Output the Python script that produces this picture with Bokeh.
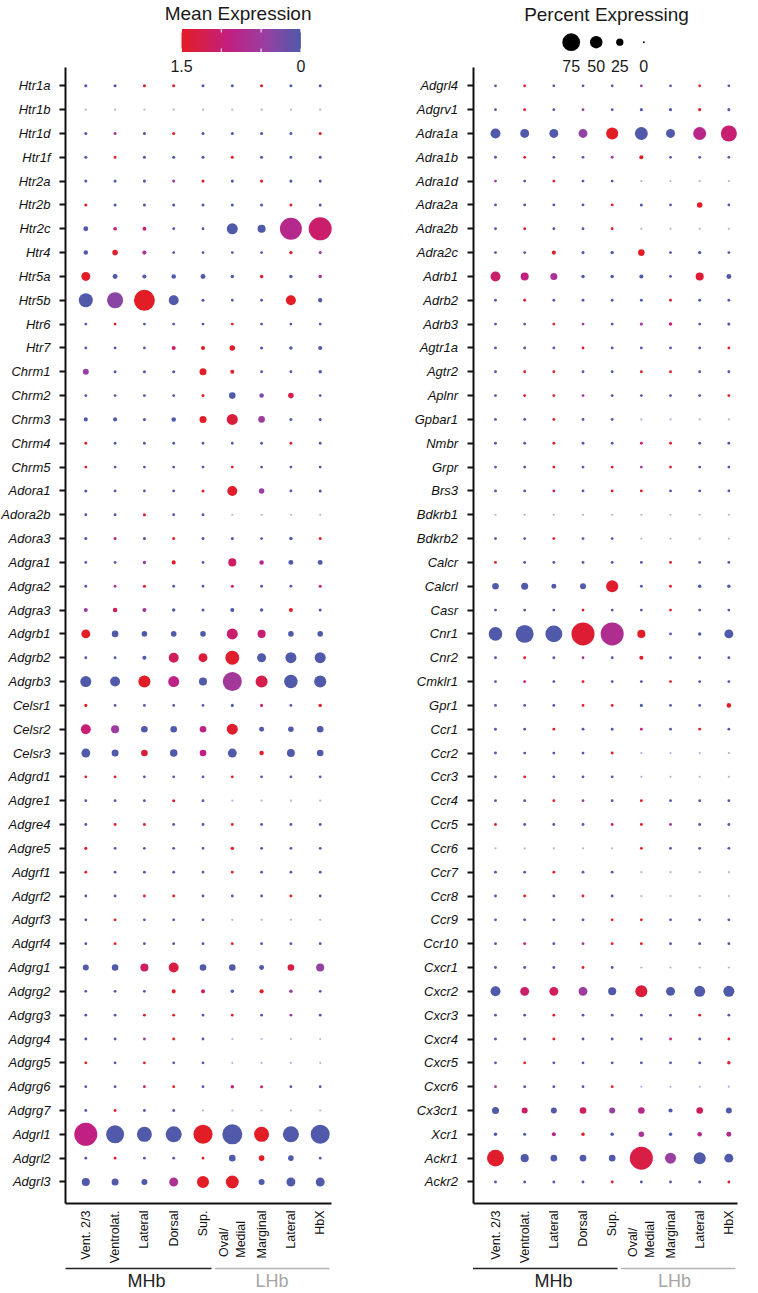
import math
import numpy as np
from bokeh.plotting import figure
from bokeh.models import (Range1d, LinearAxis, FixedTicker, ColumnDataSource,
                          LinearColorMapper, LinearInterpolator)
from bokeh.transform import transform
from bokeh.core.properties import value
from bokeh.embed import file_html
from bokeh.resources import INLINE

# ---------------- data ----------------
NB = "\u00a0"
groups = ["Vent. 2/3", "Ventrolat.", "Lateral", "Dorsal", "Sup.",
          "Oval/" + NB * 5 + "\nMedial" + NB * 3, "Marginal", "Lateral", "HbX"]
bracket_names = ["MHb", "LHb"]

genes_left = ["Htr1a", "Htr1b", "Htr1d", "Htr1f", "Htr2a", "Htr2b", "Htr2c", "Htr4",
              "Htr5a", "Htr5b", "Htr6", "Htr7", "Chrm1", "Chrm2", "Chrm3", "Chrm4",
              "Chrm5", "Adora1", "Adora2b", "Adora3", "Adgra1", "Adgra2", "Adgra3",
              "Adgrb1", "Adgrb2", "Adgrb3", "Celsr1", "Celsr2", "Celsr3", "Adgrd1",
              "Adgre1", "Adgre4", "Adgre5", "Adgrf1", "Adgrf2", "Adgrf3", "Adgrf4",
              "Adgrg1", "Adgrg2", "Adgrg3", "Adgrg4", "Adgrg5", "Adgrg6", "Adgrg7",
              "Adgrl1", "Adgrl2", "Adgrl3"]

expr_left = [
    [0, 0, 1.5, 1.5, 0, 0, 1.5, 0, 0],          # Htr1a
    [0, 0, 0, 0, 0, 0, 0, 0, 0],                # Htr1b
    [0, 0.5, 0, 1.5, 0, 0, 0, 0, 1.5],          # Htr1d
    [0, 1.5, 0, 0, 0, 1.5, 0, 0, 0],            # Htr1f
    [0, 0, 0, 0.5, 1.5, 0, 1.5, 0, 0],          # Htr2a
    [1.5, 0, 0, 0, 0, 0, 0, 1.5, 0],            # Htr2b
    [0, 1.0, 1.0, 0, 0, 0, 0, 0.75, 1.05],      # Htr2c
    [0, 1.5, 0.7, 0, 0, 0, 0, 1.5, 0.5],        # Htr4
    [1.5, 0, 0, 0, 0, 0, 1.5, 0, 0.6],          # Htr5a
    [0, 0.35, 1.5, 0, 0, 0, 0, 1.5, 0],         # Htr5b
    [0, 1.5, 0, 0, 0, 1.5, 0, 0, 0],            # Htr6
    [0, 0, 0, 1.1, 1.5, 1.5, 0, 0, 0],          # Htr7
    [0.45, 0, 0, 0, 1.5, 1.5, 0, 0, 0],         # Chrm1
    [0, 0, 0, 0, 1.5, 0, 0.25, 1.25, 0],        # Chrm2
    [0, 0, 0, 0, 1.5, 1.35, 0.5, 0, 0],         # Chrm3
    [1.5, 0, 0, 0, 0, 0, 0, 1.5, 0],            # Chrm4
    [1.5, 0, 0, 0, 0, 1.5, 0, 0, 0],            # Chrm5
    [0, 0, 0, 0, 1.5, 1.45, 0.45, 0, 0],        # Adora1
    [0, 0, 1.5, 0, 0, 0, 0, 0, 0],              # Adora2b
    [0, 1.0, 0, 1.5, 0, 0, 0, 0, 1.5],          # Adora3
    [0, 0, 0.45, 1.5, 0, 1.1, 0.75, 0, 0],      # Adgra1
    [0, 0.5, 1.5, 0, 0, 1.0, 0, 0, 1.0],        # Adgra2
    [0.45, 1.2, 0.55, 0, 0, 0, 0, 1.5, 0],      # Adgra3
    [1.5, 0, 0, 0, 0, 1.05, 1.0, 0, 0],         # Adgrb1
    [0, 0, 0, 1.15, 1.35, 1.45, 0, 0, 0],       # Adgrb2
    [0, 0, 1.5, 0.85, 0, 0.55, 1.25, 0, 0],     # Adgrb3
    [1.5, 0, 0, 0, 0, 0, 1.0, 0, 1.5],          # Celsr1
    [1.0, 0.5, 0, 0, 0.85, 1.45, 0, 0, 0],      # Celsr2
    [0, 0, 1.35, 0, 0.9, 0, 1.5, 0, 0],         # Celsr3
    [1.5, 1.5, 0, 0, 0, 1.5, 0, 0, 0],          # Adgrd1
    [0, 0, 0, 1.5, 0, 0, 0, 0, 0],              # Adgre1
    [0, 1.5, 1.5, 0, 0, 1.5, 0, 0, 0],          # Adgre4
    [1.5, 0, 0, 0, 0, 1.5, 0, 0, 0],            # Adgre5
    [1.5, 0, 0, 0, 0, 1.5, 0, 0, 0],            # Adgrf1
    [0, 0, 1.5, 1.5, 0, 0, 0, 1.5, 0],          # Adgrf2
    [0, 1.5, 0, 0, 0, 0, 0, 0, 0],              # Adgrf3
    [0, 1.5, 0, 0, 0, 1.5, 0, 0, 0],            # Adgrf4
    [0, 0, 1.1, 1.3, 0, 0, 0, 1.3, 0.4],        # Adgrg1
    [0, 0, 0, 1.5, 1.1, 0, 1.5, 0.45, 0],       # Adgrg2
    [0, 0, 1.5, 1.5, 0, 1.5, 0, 0.5, 0],        # Adgrg3
    [0, 0, 0.5, 1.5, 0, 0, 0, 0, 0],            # Adgrg4
    [1.5, 0, 1.5, 0, 0, 0, 0, 0, 0],            # Adgrg5
    [0, 0, 1.0, 1.5, 0, 1.0, 1.0, 0, 0],        # Adgrg6
    [0, 1.5, 0, 0, 0, 0, 0, 0, 0],              # Adgrg7
    [0.9, 0, 0, 0, 1.5, 0, 1.5, 0, 0],          # Adgrl1
    [0, 1.5, 0, 0, 1.5, 0, 1.5, 0, 0],          # Adgrl2
    [0, 0, 0, 0.65, 1.5, 1.5, 0, 0, 0],         # Adgrl3
]

pct_left = [
    [5, 5, 5, 5, 5, 5, 5, 5, 5],                # Htr1a
    [1, 1, 1, 1, 1, 1, 1, 1, 1],                # Htr1b
    [5, 5, 5, 5, 5, 5, 5, 5, 5],                # Htr1d
    [5, 5, 5, 5, 5, 5, 5, 5, 5],                # Htr1f
    [5, 5, 5, 5, 5, 5, 5, 5, 5],                # Htr2a
    [5, 5, 5, 5, 5, 5, 5, 5, 5],                # Htr2b
    [14, 8, 9, 4, 4, 43, 29, 95, 100],          # Htr2c
    [12, 17, 10, 4, 4, 4, 4, 7, 5],             # Htr4
    [33, 14, 10, 12, 14, 7, 7, 7, 7],           # Htr5a
    [57, 67, 90, 38, 5, 4, 4, 38, 11],          # Htr5b
    [4, 4, 4, 4, 4, 4, 4, 4, 4],                # Htr6
    [4, 4, 4, 10, 10, 17, 5, 7, 10],            # Htr7
    [19, 5, 5, 5, 24, 10, 4, 4, 7],             # Chrm1
    [4, 4, 4, 4, 5, 22, 12, 17, 4],             # Chrm2
    [10, 10, 5, 12, 24, 43, 22, 5, 5],          # Chrm3
    [4, 4, 4, 4, 4, 4, 4, 4, 4],                # Chrm4
    [4, 4, 4, 4, 4, 4, 4, 4, 4],                # Chrm5
    [5, 4, 4, 4, 5, 38, 17, 4, 5],              # Adora1
    [4, 4, 5, 4, 4, 1, 1, 1, 1],                # Adora2b
    [5, 5, 5, 5, 5, 5, 4, 7, 5],                # Adora3
    [4, 4, 7, 10, 4, 29, 12, 14, 14],           # Adgra1
    [4, 4, 5, 4, 4, 5, 4, 4, 5],                # Adgra2
    [10, 12, 10, 7, 5, 10, 7, 10, 5],           # Adgra3
    [33, 22, 17, 17, 17, 43, 29, 17, 17],       # Adgrb1
    [4, 4, 10, 38, 33, 57, 33, 43, 43],         # Adgrb2
    [43, 38, 48, 43, 29, 81, 48, 55, 48],       # Adgrb3
    [5, 4, 4, 4, 4, 5, 5, 4, 7],                # Celsr1
    [38, 29, 22, 22, 22, 43, 14, 17, 22],       # Celsr2
    [33, 24, 22, 26, 22, 33, 12, 28, 22],       # Celsr3
    [4, 4, 4, 4, 4, 4, 4, 4, 4],                # Adgrd1
    [4, 4, 4, 5, 4, 1, 1, 1, 1],                # Adgre1
    [4, 4, 4, 4, 4, 4, 4, 4, 4],                # Adgre4
    [5, 4, 4, 4, 4, 7, 4, 4, 4],                # Adgre5
    [4, 4, 4, 4, 4, 4, 4, 4, 4],                # Adgrf1
    [4, 4, 4, 4, 4, 4, 4, 4, 4],                # Adgrf2
    [4, 4, 4, 4, 4, 1, 1, 1, 1],                # Adgrf3
    [4, 4, 4, 4, 4, 4, 4, 4, 4],                # Adgrf4
    [19, 22, 29, 38, 22, 22, 14, 22, 29],       # Adgrg1
    [4, 4, 4, 10, 10, 7, 10, 7, 4],             # Adgrg2
    [4, 4, 4, 4, 4, 4, 4, 4, 4],                # Adgrg3
    [4, 4, 4, 4, 4, 1, 1, 1, 1],                # Adgrg4
    [4, 4, 4, 4, 4, 1, 1, 1, 1],                # Adgrg5
    [4, 4, 4, 4, 4, 7, 5, 4, 4],                # Adgrg6
    [4, 4, 4, 4, 1, 1, 1, 1, 1],                # Adgrg7
    [100, 76, 62, 67, 81, 86, 62, 67, 81],      # Adgrl1
    [4, 4, 4, 4, 4, 22, 17, 17, 4],             # Adgrl2
    [29, 24, 19, 33, 48, 52, 19, 33, 33],       # Adgrl3
]

genes_right = ["Adgrl4", "Adgrv1", "Adra1a", "Adra1b", "Adra1d", "Adra2a", "Adra2b",
               "Adra2c", "Adrb1", "Adrb2", "Adrb3", "Agtr1a", "Agtr2", "Aplnr", "Gpbar1",
               "Nmbr", "Grpr", "Brs3", "Bdkrb1", "Bdkrb2", "Calcr", "Calcrl", "Casr",
               "Cnr1", "Cnr2", "Cmklr1", "Gpr1", "Ccr1", "Ccr2", "Ccr3", "Ccr4", "Ccr5",
               "Ccr6", "Ccr7", "Ccr8", "Ccr9", "Ccr10", "Cxcr1", "Cxcr2", "Cxcr3", "Cxcr4",
               "Cxcr5", "Cxcr6", "Cx3cr1", "Xcr1", "Ackr1", "Ackr2"]

expr_right = [
    [0, 1.5, 0, 0, 0, 0.5, 0, 1.5, 0],          # Adgrl4
    [0, 1.5, 0, 0.5, 0, 0, 0, 1.5, 0],          # Adgrv1
    [0, 0, 0, 0.4, 1.5, 0, 0, 0.8, 1.0],        # Adra1a
    [0, 1.5, 0, 0, 0.5, 1.5, 0, 0, 0],          # Adra1b
    [0.5, 0, 1.5, 0, 0, 0, 0, 0, 0],            # Adra1d
    [0, 0, 0, 0, 1.5, 0, 0, 1.5, 0],            # Adra2a
    [0, 1.5, 0, 0, 1.5, 0, 0, 0, 0],            # Adra2b
    [0, 0, 1.5, 0, 0, 1.5, 0, 0, 0],            # Adra2c
    [1.05, 0.9, 0.65, 0, 0, 0, 0, 1.4, 0],      # Adrb1
    [0, 1.5, 0, 0, 0, 0, 1.5, 0, 0],            # Adrb2
    [0, 0, 1.5, 0.5, 0, 0.5, 1.0, 0, 0],        # Adrb3
    [0, 0, 0, 1.5, 0, 0, 0, 0, 1.5],            # Agtr1a
    [0, 1.5, 1.5, 0, 0, 1.5, 1.5, 0, 0],        # Agtr2
    [0, 1.5, 1.5, 0.5, 0, 0, 0, 0, 1.5],        # Aplnr
    [0, 0, 1.5, 0, 0, 0, 0, 0, 0],              # Gpbar1
    [0, 0, 1.5, 0, 0, 1.0, 1.5, 0, 0],          # Nmbr
    [0, 0, 1.5, 0, 1.5, 0.5, 1.5, 0, 0],        # Grpr
    [0, 0, 1.0, 0, 1.5, 1.5, 0, 0, 0],          # Brs3
    [0, 0, 0, 0, 0, 0, 0, 0, 0],                # Bdkrb1
    [0, 0, 1.5, 0, 0, 0, 0, 0, 0],              # Bdkrb2
    [1.5, 0, 0, 0, 0, 0, 1.5, 0, 0],            # Calcr
    [0, 0, 0, 0, 1.45, 0, 1.5, 0, 0],           # Calcrl
    [0, 0, 0, 1.5, 0, 0, 1.5, 0, 0],            # Casr
    [0, 0, 0, 1.4, 0.7, 1.5, 0, 0, 0],          # Cnr1
    [0, 1.5, 0, 0.5, 0, 1.5, 0, 0, 0],          # Cnr2
    [0, 1.0, 0, 1.5, 0, 0, 1.5, 0, 0],          # Cmklr1
    [0, 0, 0, 1.5, 1.5, 0, 0, 0, 1.5],          # Gpr1
    [0, 0, 1.5, 0, 0, 1.0, 0, 1.5, 0],          # Ccr1
    [0, 0, 0, 0, 1.5, 0, 0, 0, 0],              # Ccr2
    [0, 1.5, 0, 0, 0, 0, 0, 0, 0],              # Ccr3
    [0, 0, 1.5, 0.5, 0, 1.5, 0, 0, 0],          # Ccr4
    [1.5, 0, 0, 0, 1.0, 1.5, 0.5, 0, 0],        # Ccr5
    [0, 0, 0, 0, 0, 1.5, 0, 0, 0],              # Ccr6
    [0, 0, 1.5, 0, 0, 0, 0, 0, 0],              # Ccr7
    [0, 1.5, 0, 1.5, 0, 0, 0, 0, 0],            # Ccr8
    [0, 0, 0, 0, 1.5, 1.5, 0, 0, 0],            # Ccr9
    [0, 1.0, 0, 0.5, 1.5, 1.5, 0, 0, 0],        # Ccr10
    [0, 0, 0, 1.5, 0, 0, 0, 0, 0],              # Cxcr1
    [0, 1.05, 1.15, 0.5, 0, 1.35, 0, 0, 0],     # Cxcr2
    [0, 0, 1.5, 0, 0, 0, 0, 1.5, 0],            # Cxcr3
    [0, 0, 1.5, 0, 0, 0, 1.0, 0, 1.5],          # Cxcr4
    [0, 1.5, 0, 0, 0, 0, 0, 0, 1.5],            # Cxcr5
    [0.5, 0, 0, 0, 1.5, 0, 0, 0, 0],            # Cxcr6
    [0, 1.1, 0, 1.15, 0.45, 0.8, 0, 1.15, 0],   # Cx3cr1
    [0, 0, 0.8, 1.5, 0, 0.6, 0, 0.8, 0.75],     # Xcr1
    [1.45, 0, 0, 0, 0, 1.3, 0.45, 0, 0],        # Ackr1
    [0, 0, 0, 0, 1.5, 0, 0, 0, 1.5],            # Ackr2
]

pct_right = [
    [4, 4, 4, 4, 4, 4, 4, 4, 4],                # Adgrl4
    [4, 4, 4, 4, 4, 5, 5, 5, 5],                # Adgrv1
    [38, 33, 33, 33, 48, 52, 33, 52, 67],       # Adra1a
    [4, 4, 4, 4, 4, 10, 4, 4, 4],               # Adra1b
    [4, 4, 4, 4, 4, 1, 1, 1, 1],                # Adra1d
    [4, 4, 4, 4, 4, 5, 4, 17, 4],               # Adra2a
    [4, 4, 4, 4, 4, 1, 1, 1, 1],                # Adra2b
    [4, 4, 10, 5, 7, 22, 4, 7, 4],              # Adra2c
    [38, 29, 24, 7, 7, 10, 4, 29, 14],          # Adrb1
    [4, 4, 4, 4, 4, 4, 4, 4, 4],                # Adrb2
    [4, 4, 4, 4, 4, 5, 7, 4, 5],                # Adrb3
    [4, 4, 4, 4, 4, 4, 4, 4, 4],                # Agtr1a
    [4, 4, 4, 4, 4, 4, 4, 4, 4],                # Agtr2
    [4, 4, 4, 4, 4, 4, 4, 4, 4],                # Aplnr
    [4, 4, 4, 4, 4, 1, 1, 1, 1],                # Gpbar1
    [4, 4, 4, 4, 4, 4, 4, 4, 4],                # Nmbr
    [4, 4, 4, 4, 4, 4, 4, 4, 4],                # Grpr
    [4, 4, 4, 4, 4, 4, 4, 4, 4],                # Brs3
    [1, 1, 1, 1, 1, 1, 1, 1, 1],                # Bdkrb1
    [4, 4, 4, 4, 4, 1, 1, 1, 1],                # Bdkrb2
    [4, 4, 4, 4, 4, 4, 4, 4, 4],                # Calcr
    [22, 24, 14, 19, 48, 4, 4, 7, 7],           # Calcrl
    [4, 4, 4, 4, 4, 4, 4, 4, 4],                # Casr
    [55, 76, 71, 100, 100, 29, 4, 7, 33],       # Cnr1
    [4, 4, 4, 4, 4, 10, 4, 4, 4],               # Cnr2
    [4, 4, 4, 4, 4, 4, 4, 4, 4],                # Cmklr1
    [4, 4, 4, 4, 4, 5, 4, 4, 12],               # Gpr1
    [4, 4, 4, 4, 4, 4, 4, 4, 4],                # Ccr1
    [4, 4, 4, 4, 4, 1, 1, 1, 1],                # Ccr2
    [4, 4, 4, 4, 4, 1, 1, 1, 1],                # Ccr3
    [4, 4, 4, 4, 4, 4, 4, 4, 4],                # Ccr4
    [4, 4, 4, 4, 4, 4, 4, 4, 4],                # Ccr5
    [1, 1, 1, 1, 1, 4, 4, 4, 4],                # Ccr6
    [4, 4, 4, 4, 4, 1, 1, 1, 1],                # Ccr7
    [4, 4, 4, 4, 4, 1, 1, 1, 1],                # Ccr8
    [4, 4, 4, 4, 4, 4, 4, 4, 4],                # Ccr9
    [4, 4, 4, 4, 4, 4, 4, 4, 4],                # Ccr10
    [4, 4, 4, 4, 4, 1, 1, 1, 1],                # Cxcr1
    [38, 33, 33, 33, 29, 48, 33, 43, 43],       # Cxcr2
    [4, 4, 4, 4, 4, 4, 4, 4, 4],                # Cxcr3
    [4, 4, 4, 4, 4, 4, 4, 4, 4],                # Cxcr4
    [4, 4, 4, 4, 4, 4, 4, 4, 7],                # Cxcr5
    [4, 4, 4, 4, 4, 1, 1, 1, 1],                # Cxcr6
    [24, 19, 19, 22, 19, 22, 10, 22, 19],       # Cx3cr1
    [7, 5, 10, 7, 7, 17, 7, 12, 14],            # Xcr1
    [71, 29, 22, 22, 22, 100, 43, 48, 33],      # Ackr1
    [4, 4, 4, 4, 4, 4, 4, 4, 4],                # Ackr2
]

size_legend_pct = [75, 50, 25, 0]
color_legend_ticks = [1.5, 1.0, 0.5, 0.0]
color_legend_labels = ["1.5", "0"]

# ---------------- layout constants (reference pixel space) ----------------
W, H = 750, 1291
OX, OY = 0, 0
XL0, DXL = 85.3, 29.3       # left panel first column centre, column step
XR0, DXR = 495.0, 29.17     # right panel
Y0, DY = 85.3, 23.83        # first row centre, row step
TOP, BOTTOM = 67.0, 1203.0
L_AXIS, L_END = 65.0, 330.5
R_AXIS, R_END = 472.5, 737.0
FONT = "Liberation Sans"
EXPR_MAX = 1.5

# colour palette (blue -> purple -> magenta -> red)
stops = [(0.0, (80, 89, 170)), (0.45, (154, 63, 162)), (0.9, (194, 31, 130)), (1.5, (227, 29, 37))]
palette = []
for i in range(256):
    v = EXPR_MAX * i / 255
    for (v0, c0), (v1, c1) in zip(stops[:-1], stops[1:]):
        if v0 <= v <= v1:
            t = (v - v0) / (v1 - v0)
            rgb = [round(a + (b - a) * t) for a, b in zip(c0, c1)]
            palette.append("#%02x%02x%02x" % tuple(rgb))
            break
cmap = LinearColorMapper(palette=palette, low=0, high=EXPR_MAX)
size_map = LinearInterpolator(x=[0, 100], y=[2, 23], clip=False)
alpha_map = LinearInterpolator(x=[1, 4], y=[0.45, 1.0], clip=False)

p = figure(width=W, height=H, x_range=Range1d(OX, OX + W), y_range=Range1d(OY + H, OY),
           output_backend="svg", toolbar_location=None, x_axis_type=None, y_axis_type=None,
           min_border=0, outline_line_color=None)
p.title.visible = False
p.extra_x_ranges = {
    "L": Range1d((OX - XL0) / DXL, (OX + W - XL0) / DXL),
    "R": Range1d((OX - XR0) / DXR, (OX + W - XR0) / DXR),
}
p.extra_y_ranges = {"G": Range1d((OY + H - Y0) / DY, (OY - Y0) / DY)}


def panel(name, genes, expr, pct, x0, dx, axis_px, end_px):
    cols, rows, ev, pv = [], [], [], []
    for r, (erow, prow) in enumerate(zip(expr, pct)):
        for c, (e, q) in enumerate(zip(erow, prow)):
            cols.append(c); rows.append(r); ev.append(e); pv.append(q)
    src = ColumnDataSource(dict(col=cols, row=rows, expr=ev, pct=pv))
    p.scatter(x="col", y="row", source=src, x_range_name=name, y_range_name="G",
              size=transform("pct", size_map), fill_color=transform("expr", cmap),
              fill_alpha=transform("pct", alpha_map), line_color=None)

    yax = LinearAxis(x_range_name=name, y_range_name="G",
                     fixed_location=(axis_px - x0) / dx,
                     bounds=((TOP - Y0) / DY, (BOTTOM - Y0) / DY),
                     ticker=FixedTicker(ticks=list(range(len(genes)))),
                     major_label_overrides={i: g for i, g in enumerate(genes)},
                     axis_line_width=2, axis_line_color="#111111",
                     major_tick_line_width=2, major_tick_line_color="#111111",
                     major_tick_out=6, major_tick_in=0, minor_tick_out=0, minor_tick_in=0,
                     major_label_standoff=9, major_label_text_font=FONT,
                     major_label_text_font_size="13px", major_label_text_font_style="italic",
                     major_label_text_color="#111111")
    p.add_layout(yax, "left")

    xax = LinearAxis(x_range_name=name, y_range_name="G",
                     fixed_location=(BOTTOM - Y0) / DY,
                     bounds=((axis_px - x0) / dx, (end_px - x0) / dx),
                     ticker=FixedTicker(ticks=list(range(len(groups)))),
                     major_label_overrides={i: g for i, g in enumerate(groups)},
                     major_label_orientation=math.pi / 2,
                     axis_line_width=2, axis_line_color="#111111",
                     major_tick_out=0, major_tick_in=0, minor_tick_out=0, minor_tick_in=0,
                     major_label_standoff=7, major_label_text_font=FONT,
                     major_label_text_font_size="12.5px", major_label_text_color="#111111")
    p.add_layout(xax, "below")


panel("L", genes_left, expr_left, pct_left, XL0, DXL, L_AXIS, L_END)
panel("R", genes_right, expr_right, pct_right, XR0, DXR, R_AXIS, R_END)

# group brackets under the x axes
for a0, split, a1, mid_m, mid_l in [(65.0, 211.0, 329.0, 146.0, 271.5),
                                     (472.5, 617.0, 735.0, 553.0, 674.0)]:
    p.segment(x0=[a0], y0=[1268], x1=[split], y1=[1268], line_color="#222222", line_width=1.5)
    p.segment(x0=[split + 3.5], y0=[1268], x1=[a1], y1=[1268], line_color="#b3b3b3", line_width=1.5)
    p.text(x=[mid_m, mid_l], y=[1280, 1280], text=bracket_names,
           text_color=["#222222", "#a6a6a6"], text_align="center", text_baseline="middle",
           text_font=value(FONT), text_font_size="18px")

# Mean Expression colour legend
CB_X0, CB_W, CB_Y0, CB_H = 181.0, 119.4, 28.5, 23.0
p.text(x=[237.6], y=[13], text=["Mean Expression"], text_align="center",
       text_baseline="middle", text_font=value(FONT), text_font_size="19px",
       text_color="#1a1a1a")
grad = np.linspace(EXPR_MAX, 0, 240).reshape(1, -1)
p.image(image=[grad], x=CB_X0, y=CB_Y0, dw=CB_W, dh=CB_H, color_mapper=cmap)
tick_x = [CB_X0 + (EXPR_MAX - v) / EXPR_MAX * CB_W for v in color_legend_ticks]
p.segment(x0=tick_x, y0=[CB_Y0] * 4, x1=tick_x, y1=[CB_Y0 + 3.5] * 4,
          line_color="white", line_width=1)
p.segment(x0=tick_x, y0=[CB_Y0 + CB_H - 3.5] * 4, x1=tick_x, y1=[CB_Y0 + CB_H] * 4,
          line_color="white", line_width=1)
p.text(x=[tick_x[0], tick_x[-1]], y=[65, 65], text=color_legend_labels, text_align="center",
       text_baseline="middle", text_font=value(FONT), text_font_size="16px",
       text_color="#1a1a1a")

# Percent Expressing size legend
leg_x = [570.7, 595.7, 619.3, 643.3]
p.text(x=[606.0], y=[14], text=["Percent Expressing"], text_align="center",
       text_baseline="middle", text_font=value(FONT), text_font_size="19px",
       text_color="#1a1a1a")
leg_src = ColumnDataSource(dict(x=leg_x, y=[41.7] * 4, pct=size_legend_pct,
                                lab=[str(v) for v in size_legend_pct]))
p.scatter(x="x", y="y", source=leg_src, size=transform("pct", size_map),
          fill_color="black", line_color=None)
p.text(x="x", y=65, text="lab", source=leg_src, text_align="center",
       text_baseline="middle", text_font=value(FONT), text_font_size="16px",
       text_color="#1a1a1a")

open("out.html", "w").write(file_html(p, INLINE))
